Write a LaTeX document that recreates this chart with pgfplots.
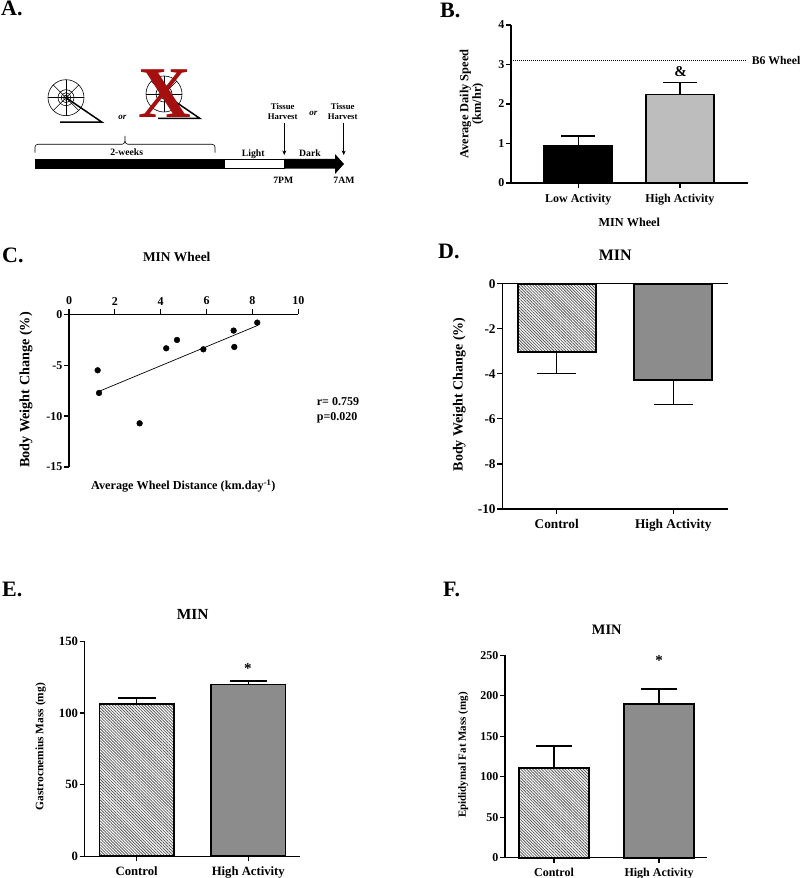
\documentclass[border=0pt]{standalone}
\usepackage{fontspec}
\setmainfont{Liberation Serif}
\usepackage{pgfplots}
\pgfplotsset{compat=1.18}
\usetikzlibrary{patterns.meta,arrows.meta}
\newcommand{\fs}[1]{\fontsize{#1}{#1}\selectfont}
\definecolor{hi}{HTML}{8C8C8C}
\definecolor{lo}{HTML}{BDBDBD}
\definecolor{xred}{HTML}{A50F0F}
\pgfplotsset{
 panel/.style={
  scale only axis, clip=false,
  axis line style={-,black,line width=1.4pt},
  tick style={black,line width=1.2pt},
  tick align=outside, major tick length=5pt,
  /pgf/number format/assume math mode=true,
  ticklabel style={font=\bfseries\fs{#1}},
  tick label style={inner sep=1.5pt},
  ytick pos=left,
 },
 barpanel/.style={
  panel=#1, ybar, axis x line*=bottom, axis y line*=left,
  xtick={0,1}, xticklabel style={yshift=-4pt},
 },
 ylab/.style args={#1/#2}{every axis y label/.style={at={(axis description cs:#1,#2)},rotate=90,anchor=center,align=center,font=\bfseries\fs{12.4}}},
 xlab/.style args={#1/#2}{every axis x label/.style={at={(axis description cs:#1,#2)},anchor=center,font=\bfseries\fs{12.2}}},
 ttl/.style args={#1/#2/#3}{every axis title/.style={at={(axis description cs:#1,#2)},anchor=center,font=\bfseries\fs{#3}}},
 errs/.style args={#1/#2}{error bars/.cd,y dir=#1,y explicit,error bar style={black,line width=1.2pt},error mark options={rotate=90,black,mark size=#2pt,line width=1.2pt}},
}
\tikzset{
 hatch/.style={pattern={Lines[angle=-45,distance=2.1pt,line width=0.8pt]},pattern color=black!65},
}
\newcommand{\wheel}[2]{%
 \begin{scope}[shift={(#1,#2)},line width=0.6pt]
  \draw (0,0) circle (18pt) (0,0) circle (8pt) (0,0) circle (5pt) (0,0) circle (2.5pt);
  \foreach \a in {0,45,...,315}{\draw (0,0) -- (\a:18pt);}
  \draw[line width=1.5pt] (0,0) -- (36,24.5) -- (-6,24.5);
 \end{scope}}
\begin{document}
\begin{tikzpicture}
\useasboundingbox (0,0) rectangle (800pt,878pt);
% ---------- Panel A schematic
\begin{scope}[x=1pt,y=-1pt,yshift=878pt]
 \node[anchor=base west,inner sep=0,font=\bfseries\fs{22}] at (1,15.7) {A.};
 \node[anchor=base west,inner sep=0,font=\bfseries\fs{22}] at (440,18) {B.};
 \node[anchor=base west,inner sep=0,font=\bfseries\fs{22}] at (2,262.7) {C.};
 \node[anchor=base west,inner sep=0,font=\bfseries\fs{22}] at (438,259) {D.};
 \node[anchor=base west,inner sep=0,font=\bfseries\fs{22}] at (2,597) {E.};
 \node[anchor=base west,inner sep=0,font=\bfseries\fs{22}] at (443,597) {F.};
 \wheel{66}{97.7}
 \wheel{164}{94}
 \node[anchor=base,inner sep=0,text=xred,font=\bfseries\fs{73}] at (165,118) {X};
 \node[font=\bfseries\itshape\fs{9}] at (122.3,117.3) {or};
 \node[font=\bfseries\itshape\fs{9}] at (313.3,113.3) {or};
 \draw[line width=0.6pt] (35,152.7) -- (35,147) to[out=90,in=180] (38,144.3) -- (122,144.3) to[out=0,in=-90] (125,136) to[out=-90,in=180] (128,144.3) -- (212,144.3) to[out=0,in=90] (215,147) -- (215,152.7);
 \node[font=\bfseries\fs{9.7}] at (126.7,152) {2-weeks};
 \node[font=\bfseries\fs{9.7}] at (253.3,154.3) {Light};
 \node[font=\bfseries\fs{9.7}] at (310,153.3) {Dark};
 \fill[black] (35,159) rectangle (224,168.7);
 \draw[fill=white,line width=0.7pt] (224,159.3) rectangle (284,168.4);
 \fill[black] (284,159) -- (335,159) -- (335,154) -- (344,164) -- (335,174) -- (335,168.7) -- (284,168.7) -- cycle;
 \node[font=\bfseries\fs{8.7}] at (282.7,106.3) {Tissue};
 \node[font=\bfseries\fs{8.7}] at (282.7,117) {Harvest};
 \node[font=\bfseries\fs{8.7}] at (342.7,106.3) {Tissue};
 \node[font=\bfseries\fs{8.7}] at (342.7,117) {Harvest};
 \draw[line width=0.6pt,-{Stealth[length=4.5pt,width=4pt]}] (284.3,123) -- (284.3,155);
 \draw[line width=0.6pt,-{Stealth[length=4.5pt,width=4pt]}] (343.7,123) -- (343.7,155);
 \node[font=\bfseries\fs{9.7}] at (283.3,180) {7PM};
 \node[font=\bfseries\fs{9.7}] at (344,180) {7AM};
 \node[anchor=west,inner sep=0,font=\bfseries\fs{12}] at (316.7,401.7) {r= 0.759};
 \node[anchor=west,inner sep=0,font=\bfseries\fs{12}] at (316.7,417.3) {p=0.020};
\end{scope}
% ---------- Panel B
\begin{axis}[barpanel=12, at={(511pt,695pt)}, anchor=south west, width=236.7pt, height=158pt,
 xmin=-0.662, xmax=1.666, ymin=0, ymax=4, ytick={0,1,2,3,4},
 xticklabels={Low Activity,High Activity}, bar width=68.5pt, bar shift=0pt,
 ylab={-0.166/0.5}, xlab={0.5/-0.251},
 ylabel={Average Daily Speed\\(km/hr)}, xlabel={MIN Wheel}]
 \addplot+[fill=black,draw=black,line width=1.8pt,forget plot,errs={plus/17}] coordinates {(0,0.94) +- (0,0.25)};
 \addplot+[fill=lo,draw=black,line width=1.8pt,forget plot,errs={plus/17}] coordinates {(1,2.24) +- (0,0.30)};
 \addplot[sharp plot,densely dotted,black,line width=1pt,forget plot] coordinates {(-0.662,3.09) (1.656,3.09)};
 \node[font=\bfseries\fs{15}] at (axis cs:1.007,2.81) {\&};
 \node[anchor=west,inner sep=0,font=\bfseries\fs{11.7}] at (axis cs:1.705,3.09) {B6 Wheel};
\end{axis}
% ---------- Panel C
\begin{axis}[panel=12, at={(69pt,411pt)}, anchor=south west, width=229.3pt, height=152.7pt,
 xmin=0, xmax=10, ymin=-15, ymax=0, axis x line*=top, axis y line*=left,
 xtick={0,2,4,6,8,10}, ytick={0,-5,-10,-15}, xticklabel style={yshift=2.5pt},
 ylab={-0.1875/0.504}, xlab={0.4985/-0.124}, ttl={0.47/1.377/13.4},
 title={MIN Wheel},
 ylabel={\fs{14.2}Body Weight Change (\%)},
 xlabel={Average Wheel Distance (km.day\textsuperscript{-1})}]
 \addplot[only marks,mark=*,mark size=2.9pt,black] coordinates {
  (1.25,-5.5) (1.31,-7.73) (3.08,-10.71) (4.24,-3.34) (4.71,-2.52)
  (5.86,-3.44) (7.18,-1.6) (7.21,-3.21) (8.21,-0.82)};
 \addplot[black,line width=0.7pt] coordinates {(1.31,-7.57) (8.21,-1.11)};
\end{axis}
% ---------- Panel D
\begin{axis}[barpanel=13.3, at={(502.3pt,369pt)}, anchor=south west, width=226pt, height=225.3pt,
 xmin=-0.4666, xmax=1.472, ymin=-10, ymax=0, ytick={0,-2,-4,-6,-8,-10},
 xticklabels={Control,High Activity}, bar width=78pt, bar shift=0pt,
 ylab={-0.19/0.509}, ttl={0.5/1.124/16}, title={MIN},
 ylabel={\fs{14}Body Weight Change (\%)}]
 \addplot+[hatch,draw=black,line width=1.8pt,forget plot,errs={minus/19.7}] coordinates {(0,-3.02) +- (0,0.98)};
 \addplot+[fill=hi,draw=black,line width=1.8pt,forget plot,errs={minus/19.7}] coordinates {(1,-4.26) +- (0,1.09)};
 \addplot[sharp plot,black,line width=1.4pt,forget plot] coordinates {(-0.4666,0) (1.472,0)};
\end{axis}
% ---------- Panel E
\begin{axis}[barpanel=12.7, at={(84.7pt,21.7pt)}, anchor=south west, width=215.3pt, height=215pt,
 xmin=-0.466, xmax=1.463, ymin=0, ymax=150, ytick={0,50,100,150},
 xticklabels={Control,High Activity}, bar width=74.5pt, bar shift=0pt,
 ylab={-0.204/0.51}, ttl={0.5016/1.1256/15.4}, title={MIN},
 ylabel={\fs{11.4}Gastrocnemius Mass (mg)}]
 \addplot+[hatch,draw=black,line width=1.8pt,forget plot,errs={plus/18.8}] coordinates {(0,106.3) +- (0,4.2)};
 \addplot+[fill=hi,draw=black,line width=1.8pt,forget plot,errs={plus/18.8}] coordinates {(1,119.8) +- (0,2.5)};
 \node[font=\bfseries\fs{15}] at (axis cs:0.995,131) {*};
\end{axis}
% ---------- Panel F
\begin{axis}[barpanel=12, at={(505pt,20.3pt)}, anchor=south west, width=202.3pt, height=202.4pt,
 xmin=-0.4667, xmax=1.46, ymin=0, ymax=250, ytick={0,50,100,150,200,250},
 xticklabels={Control,High Activity}, bar width=70pt, bar shift=0pt,
 ylab={-0.206/0.507}, ttl={0.503/1.125/14.4}, title={MIN},
 ylabel={\fs{11}Epididymal Fat Mass (mg)}]
 \addplot+[hatch,draw=black,line width=1.8pt,forget plot,errs={plus/17.8}] coordinates {(0,110.8) +- (0,27.2)};
 \addplot+[fill=hi,draw=black,line width=1.8pt,forget plot,errs={plus/17.8}] coordinates {(1,189.9) +- (0,18.5)};
 \node[font=\bfseries\fs{15}] at (axis cs:1,244) {*};
\end{axis}
\end{tikzpicture}
\end{document}
